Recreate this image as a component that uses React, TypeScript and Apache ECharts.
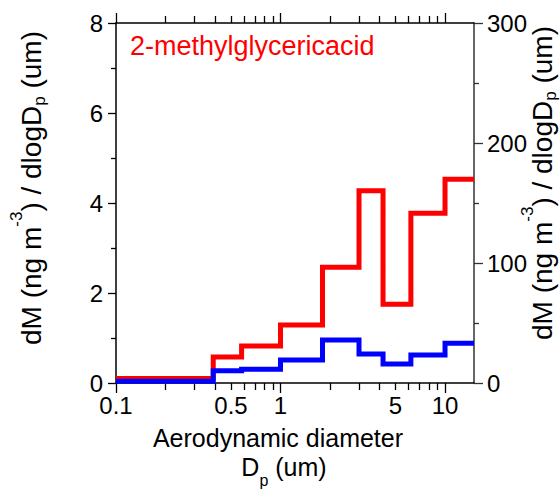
import React, { useEffect, useRef } from "react";
import * as echarts from "echarts";

// Impactor stage boundaries (um) and the size-resolved mass per stage
const binEdges = [0.1, 0.39, 0.58, 1.0, 1.8, 3.0, 4.2, 6.2, 10, 15];
const redValues = [0.1, 0.58, 0.82, 1.29, 2.57, 4.27, 1.75, 3.77, 4.53]; // left axis
const blueValues = [1.5, 10.2, 11.4, 19.2, 35.8, 24.2, 15.8, 23.3, 33.1]; // right axis

const xLabelValues = [0.1, 0.5, 1, 5, 10];
const xDecadeTicks = [0.1, 1, 10];
const xMinorTicks = [0.2, 0.3, 0.4, 0.5, 0.6, 0.7, 0.8, 0.9, 2, 3, 4, 5, 6, 7, 8, 9];
const xMin = 0.1;
const xMax = 15;

const leftAxis = { min: 0, max: 8, interval: 2 };
const rightAxis = { min: 0, max: 300, interval: 100 };

const titleText = "2-methylglycericacid";
const xTitleLine1 = "Aerodynamic diameter";
const xTitleLine2 = "D{sub|p} (um)";
const yTitle = "dM (ng m{sup|-3}) / dlogD{sub|p} (um)";

const FONT = "Arial, 'Liberation Sans', Helvetica, sans-serif";

const lg = (v: number) => Math.log10(v);

function stepData(values: number[]) {
  return binEdges.map((e, i) => [lg(e), values[Math.min(i, values.length - 1)]]);
}

function yTitleStyle() {
  return {
    text: yTitle,
    fontSize: 28,
    lineHeight: 32,
    fontFamily: FONT,
    fill: "#000",
    align: "center",
    verticalAlign: "middle",
    rich: {
      sup: { fontSize: 17, fontFamily: FONT, verticalAlign: "top", height: 3 },
      sub: { fontSize: 17, fontFamily: FONT, verticalAlign: "bottom", height: 15 },
    },
  };
}

export default function App() {
  const ref = useRef<HTMLDivElement>(null);

  useEffect(() => {
    document.body.style.margin = "0";
    if (!ref.current) return;
    const chart = echarts.init(ref.current, undefined, { renderer: "svg" });

    const xBase = {
      type: "value" as const,
      min: lg(xMin),
      max: lg(xMax),
      splitLine: { show: false },
    };
    const tickStyle = { color: "#000", width: 1.3 };

    const option: any = {
      animation: false,
      grid: { left: 116, right: 86, top: 23, bottom: 108, containLabel: false },
      xAxis: [
        {
          ...xBase,
          position: "bottom",
          axisLine: { show: true, onZero: false, lineStyle: { color: "#000", width: 1.5 } },
          axisTick: { show: true, length: 7, customValues: xMinorTicks.map(lg), lineStyle: tickStyle },
          axisLabel: {
            show: true,
            customValues: xLabelValues.map(lg),
            formatter: (v: number) => String(Number(Math.pow(10, v).toPrecision(3))),
            fontSize: 24,
            fontFamily: FONT,
            color: "#000",
            margin: 10,
          },
        },
        {
          ...xBase,
          position: "bottom",
          axisLine: { show: false, onZero: false },
          axisTick: { show: true, length: 10, customValues: xDecadeTicks.map(lg), lineStyle: tickStyle },
          axisLabel: { show: false },
        },
        {
          ...xBase,
          position: "top",
          axisLine: { show: true, onZero: false, lineStyle: { color: "#000", width: 1.5 } },
          axisTick: { show: true, length: 7, customValues: xMinorTicks.map(lg), lineStyle: tickStyle },
          axisLabel: { show: false },
        },
        {
          ...xBase,
          position: "top",
          axisLine: { show: false, onZero: false },
          axisTick: { show: true, length: 10, customValues: xDecadeTicks.map(lg), lineStyle: tickStyle },
          axisLabel: { show: false },
        },
      ],
      yAxis: [
        {
          type: "value",
          position: "left",
          ...leftAxis,
          splitLine: { show: false },
          axisLine: { show: true, onZero: false, lineStyle: { color: "#000", width: 1.5 } },
          axisTick: { show: true, length: 8, lineStyle: tickStyle },
          minorTick: { show: true, splitNumber: 2, length: 5, lineStyle: tickStyle },
          axisLabel: { fontSize: 24, fontFamily: FONT, color: "#000", margin: 13 },
        },
        {
          type: "value",
          position: "right",
          ...rightAxis,
          splitLine: { show: false },
          axisLine: { show: true, onZero: false, lineStyle: { color: "#333", width: 1.5 } },
          axisTick: { show: true, length: 9, lineStyle: { color: "#333", width: 1.3 } },
          minorTick: { show: true, splitNumber: 2, length: 5, lineStyle: { color: "#333", width: 1.3 } },
          axisLabel: { fontSize: 24, fontFamily: FONT, color: "#000", margin: 13 },
        },
      ],
      series: [
        {
          type: "line",
          step: "end",
          xAxisIndex: 0,
          yAxisIndex: 0,
          data: stepData(redValues),
          symbol: "none",
          lineStyle: { color: "#ff0000", width: 5, join: "miter", cap: "butt" },
          z: 2,
        },
        {
          type: "line",
          step: "end",
          xAxisIndex: 0,
          yAxisIndex: 1,
          data: stepData(blueValues),
          symbol: "none",
          lineStyle: { color: "#0000ff", width: 5, join: "miter", cap: "butt" },
          z: 3,
        },
      ],
      graphic: [
        {
          type: "text",
          x: 130,
          y: 46,
          style: {
            text: titleText,
            fontSize: 27,
            fontFamily: FONT,
            fill: "#ff0000",
            align: "left",
            verticalAlign: "middle",
          },
        },
        {
          type: "text",
          x: 278,
          y: 438,
          style: {
            text: xTitleLine1,
            fontSize: 25,
            fontFamily: FONT,
            fill: "#000",
            align: "center",
            verticalAlign: "middle",
          },
        },
        {
          type: "text",
          x: 284,
          y: 467,
          style: {
            text: xTitleLine2,
            fontSize: 25,
            lineHeight: 30,
            fontFamily: FONT,
            fill: "#000",
            align: "center",
            verticalAlign: "middle",
            rich: {
              sub: { fontSize: 16, fontFamily: FONT, verticalAlign: "bottom", height: 3 },
            },
          },
        },
        { type: "text", x: 31, y: 188, rotation: Math.PI / 2, style: yTitleStyle() },
        { type: "text", x: 542, y: 183, rotation: Math.PI / 2, style: yTitleStyle() },
      ],
    };

    chart.setOption(option);
    return () => chart.dispose();
  }, []);

  return <div ref={ref} style={{ width: 560, height: 491 }} />;
}
